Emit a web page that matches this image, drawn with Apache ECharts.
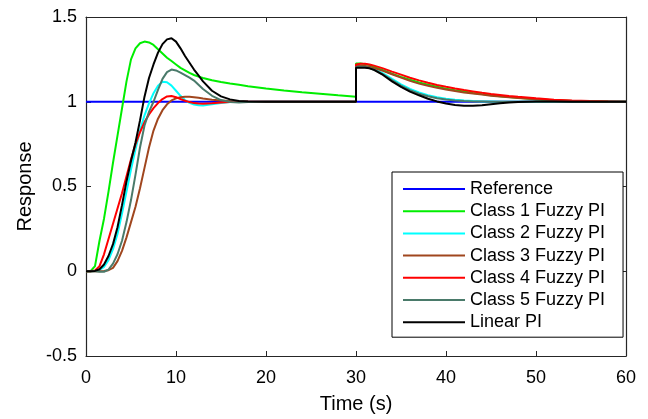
<!DOCTYPE html>
<html>
<head>
<meta charset="utf-8">
<title>Step response of PI controllers</title>
<script src="https://cdn.jsdelivr.net/npm/echarts@6/dist/echarts.min.js"></script>
<style>
  html, body { margin: 0; padding: 0; background: #fff; }
  #chart { width: 648px; height: 419px; }
</style>
</head>
<body>
<div id="chart"></div>
<script>
// Simulation time grid (s); 30 appears twice for the output disturbance step.
const timeGrid = [
  0, 0.5, 1, 1.5, 2, 2.5, 3, 3.5, 4, 4.5, 5, 5.5, 6, 6.5, 7, 7.5, 8, 8.5, 9, 9.5, 10, 10.5, 11, 11.5, 12, 12.5,
  13, 14, 15, 16, 17, 18,
  20, 22, 24, 26, 28, 30,
  30,
  30.5, 31, 31.5, 32,
  33, 34, 35, 36, 37, 38, 39, 40, 41, 42, 43, 44, 45, 46, 47, 48,
  50, 52, 54, 56, 58, 60
];

const referenceTime = [0, 60];
const referenceValue = [1, 1];

const class1Fuzzy = [
  0, 0, 0.03, 0.18, 0.31, 0.47, 0.64, 0.8, 0.96, 1.12, 1.25, 1.315, 1.345, 1.355, 1.35, 1.335, 1.31, 1.285, 1.26, 1.24, 1.22, 1.2, 1.185, 1.17, 1.158, 1.148,
  1.14, 1.127, 1.117, 1.108, 1.1, 1.092,
  1.078, 1.066, 1.056, 1.047, 1.038, 1.03,
  1.225,
  1.226, 1.222, 1.216, 1.206,
  1.186, 1.165, 1.147, 1.13, 1.114, 1.1, 1.088, 1.077, 1.068, 1.06, 1.052, 1.045, 1.039, 1.033, 1.028, 1.023,
  1.015, 1.009, 1.005, 1.003, 1.001, 1.0
];

const class2Fuzzy = [
  0, 0, 0.001, 0.006, 0.025, 0.065, 0.13, 0.22, 0.34, 0.47, 0.6, 0.72, 0.83, 0.92, 0.99, 1.05, 1.095, 1.118, 1.115, 1.095, 1.065, 1.035, 1.01, 0.993, 0.983, 0.979,
  0.978, 0.985, 0.993, 0.998, 1.0, 1.0,
  1, 1, 1, 1, 1, 1,
  1.21,
  1.212, 1.21, 1.204, 1.194,
  1.168, 1.135, 1.103, 1.076, 1.055, 1.039, 1.027, 1.018, 1.012, 1.007, 1.004, 1.002, 1.001, 1.0, 1.0, 1.0,
  1, 1, 1, 1, 1, 1
];

const class3Fuzzy = [
  0, 0, 0, 0, 0.001, 0.006, 0.02, 0.06, 0.12, 0.2, 0.29, 0.38, 0.49, 0.61, 0.73, 0.83, 0.9, 0.95, 0.985, 1.008, 1.02, 1.027, 1.03, 1.03, 1.027, 1.023,
  1.019, 1.012, 1.007, 1.004, 1.002, 1.001,
  1, 1, 1, 1, 1, 1,
  1.21,
  1.213, 1.211, 1.206, 1.199,
  1.182, 1.162, 1.142, 1.123, 1.107, 1.094, 1.082, 1.072, 1.063, 1.055, 1.048, 1.042, 1.036, 1.031, 1.026, 1.022,
  1.015, 1.009, 1.005, 1.003, 1.001, 1.0
];

const class4Fuzzy = [
  0, 0, 0.004, 0.03, 0.1, 0.19, 0.28, 0.37, 0.46, 0.56, 0.66, 0.75, 0.82, 0.88, 0.925, 0.962, 0.992, 1.016, 1.031, 1.034, 1.027, 1.016, 1.006, 0.998, 0.992, 0.989,
  0.988, 0.991, 0.995, 0.998, 0.999, 1.0,
  1, 1, 1, 1, 1, 1,
  1.22,
  1.224, 1.224, 1.22, 1.213,
  1.197, 1.178, 1.16, 1.142, 1.126, 1.112, 1.099, 1.088, 1.078, 1.069, 1.061, 1.053, 1.046, 1.04, 1.034, 1.029,
  1.02, 1.012, 1.007, 1.004, 1.002, 1.0
];

const class5Fuzzy = [
  0, 0, 0, -0.003, -0.003, 0.01, 0.045, 0.1, 0.18, 0.29, 0.42, 0.57, 0.73, 0.86, 0.94, 1.0, 1.07, 1.135, 1.175, 1.19, 1.185, 1.172, 1.157, 1.142, 1.125, 1.1,
  1.075, 1.035, 1.01, 0.998, 0.996, 0.998,
  1, 1, 1, 1, 1, 1,
  1.205,
  1.207, 1.205, 1.199, 1.189,
  1.162, 1.128, 1.095, 1.068, 1.047, 1.032, 1.021, 1.013, 1.008, 1.004, 1.002, 1.001, 1.0, 1.0, 1.0, 1.0,
  1, 1, 1, 1, 1, 1
];

const linearPI = [
  0, 0, 0.002, 0.012, 0.04, 0.09, 0.16, 0.26, 0.39, 0.53, 0.65, 0.76, 0.89, 1.03, 1.14, 1.22, 1.29, 1.34, 1.368, 1.375, 1.355, 1.315, 1.27, 1.23, 1.19, 1.155,
  1.12, 1.065, 1.032, 1.014, 1.005, 1.001,
  1, 1, 1, 1, 1, 1,
  1.2,
  1.2, 1.2, 1.197, 1.188,
  1.158, 1.12, 1.088, 1.06, 1.038, 1.018, 1.002, 0.99, 0.981, 0.976, 0.976, 0.979, 0.985, 0.991, 0.996, 0.999,
  1.001, 1.001, 1.0, 1.0, 1.0, 1.0
];

const xTicks = { min: 0, max: 60, interval: 10 };
const yTicks = { min: -0.5, max: 1.5, interval: 0.5 };

const seriesSpec = [
  { name: 'Reference',          color: '#0000ff', t: referenceTime, v: referenceValue },
  { name: 'Class 1 Fuzzy PI',   color: '#00ee00', t: timeGrid, v: class1Fuzzy },
  { name: 'Class 2 Fuzzy PI',   color: '#00ffff', t: timeGrid, v: class2Fuzzy },
  { name: 'Class 3 Fuzzy PI',   color: '#a0461e', t: timeGrid, v: class3Fuzzy },
  { name: 'Class 4 Fuzzy PI',   color: '#ff0000', t: timeGrid, v: class4Fuzzy },
  { name: 'Class 5 Fuzzy PI',   color: '#4a7a6a', t: timeGrid, v: class5Fuzzy },
  { name: 'Linear PI',          color: '#000000', t: timeGrid, v: linearPI }
];

const FONT = 'Liberation Sans, Arial, Helvetica, sans-serif';
const AXIS_COLOR = '#262626';

function boxAxis(extra) {
  return Object.assign({
    type: 'value',
    splitLine: { show: false },
    axisLine: { show: true, onZero: false, lineStyle: { color: AXIS_COLOR, width: 1.2 } },
    axisTick: { show: true, inside: true, length: 5, lineStyle: { color: AXIS_COLOR, width: 1 } },
    axisLabel: { show: false }
  }, extra);
}

const labelStyle = { show: true, color: '#000', fontFamily: FONT, fontSize: 18 };

const chart = echarts.init(document.getElementById('chart'), null, { renderer: 'canvas' });

chart.setOption({
  animation: false,
  backgroundColor: '#fff',
  grid: { left: 86, right: 22, top: 17, bottom: 62, containLabel: false },
  xAxis: [
    boxAxis(Object.assign({
      position: 'bottom',
      axisLabel: Object.assign({ margin: 13 }, labelStyle),
      name: 'Time (s)',
      nameLocation: 'middle',
      nameGap: 38,
      nameTextStyle: { color: '#000', fontFamily: FONT, fontSize: 20 }
    }, xTicks)),
    boxAxis(Object.assign({ position: 'top' }, xTicks))
  ],
  yAxis: [
    boxAxis(Object.assign({
      position: 'left',
      axisLabel: Object.assign({ margin: 9 }, labelStyle),
      name: 'Response',
      nameLocation: 'middle',
      nameGap: 51,
      nameTextStyle: { color: '#000', fontFamily: FONT, fontSize: 20 }
    }, yTicks)),
    boxAxis(Object.assign({ position: 'right' }, yTicks))
  ],
  legend: {
    orient: 'vertical',
    left: 392,
    top: 172,
    padding: [8, 18, 6, 11],
    itemGap: 4.2,
    itemWidth: 62,
    itemHeight: 2,
    icon: 'rect',
    backgroundColor: '#fff',
    borderColor: '#000',
    borderWidth: 1,
    borderRadius: 0,
    textStyle: { color: '#000', fontFamily: FONT, fontSize: 18, lineHeight: 18 },
    data: seriesSpec.map(s => s.name)
  },
  series: seriesSpec.map(s => ({
    name: s.name,
    type: 'line',
    xAxisIndex: 0,
    yAxisIndex: 0,
    showSymbol: false,
    symbol: 'none',
    smooth: false,
    color: s.color,
    lineStyle: { color: s.color, width: 2 },
    data: s.t.map((t, i) => [t, s.v[i]])
  }))
});
</script>
</body>
</html>
